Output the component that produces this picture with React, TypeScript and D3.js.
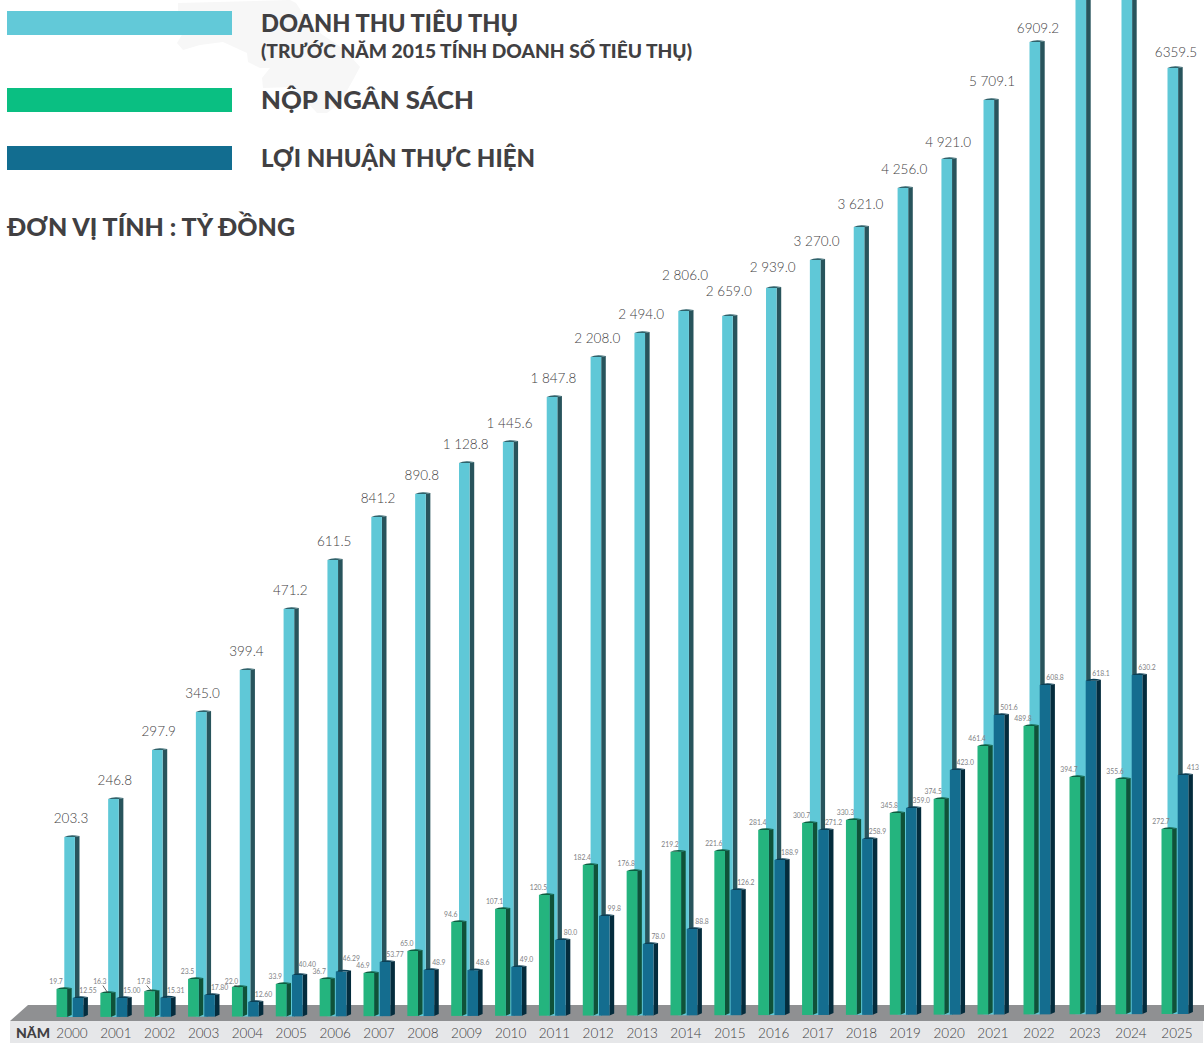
import * as d3 from 'd3';

const years = d3.range(2000, 2026);

// Doanh thu: 2023 and 2024 run off the top of the picture, so those two are estimates
const revenue = [203.3, 246.8, 297.9, 345.0, 399.4, 471.2, 611.5, 841.2, 890.8, 1128.8, 1445.6, 1847.8, 2208.0, 2494.0, 2806.0, 2659.0, 2939.0, 3270.0, 3621.0, 4256.0, 4921.0, 5709.1, 6909.2, 7800.0, 8000.0, 6359.5];
const budget = [19.7, 16.3, 17.8, 23.5, 22.0, 33.9, 36.7, 46.9, 65.0, 94.6, 107.1, 120.5, 182.4, 176.8, 219.2, 221.6, 281.4, 300.7, 330.3, 345.8, 374.5, 461.4, 489.8, 394.7, 355.6, 272.7];
const profit = [12.55, 15.0, 15.31, 17.8, 12.6, 40.4, 46.29, 53.77, 48.9, 48.6, 49.0, 80.0, 99.8, 78.0, 88.8, 126.2, 188.9, 271.2, 258.9, 359.0, 423.0, 501.6, 608.8, 618.1, 630.2, 413];

// The graphic is hand drawn and not to scale, so each series has its own calibration
const revenueKnots = [0, 203.3, 246.8, 297.9, 345, 399.4, 471.2, 611.5, 841.2, 890.8, 1128.8, 1445.6, 1847.8, 2208, 2494, 2659, 2806, 2939, 3270, 3621, 4256, 4921, 5709.1, 6359.5, 6909.2, 8000];
const revenueLevels = [0, 178, 216, 265, 303, 345, 406, 455, 498, 521, 552, 573, 618, 658, 682, 699, 704, 727, 755, 788, 827, 856, 915, 947, 973, 1100];
const budgetKnots = [0, 16.3, 19.7, 22, 23.5, 33.9, 36.7, 46.9, 65, 94.6, 120.5, 176.8, 182.4, 221.6, 272.7, 281.4, 300.7, 330.3, 345.8, 355.6, 374.5, 394.7, 461.4, 489.8];
const budgetLevels = [0, 24, 28, 30, 38, 33, 38, 44, 66, 95, 122, 146, 152, 166, 188, 187, 194, 197, 204, 238, 218, 240, 271, 291];
const profitKnots = [0, 12.55, 12.6, 15, 17.8, 40.4, 48.9, 49, 53.77, 78, 80, 88.8, 99.8, 126.2, 188.9, 258.9, 271.2, 359, 413, 423, 501.6, 608.8, 630.2];
const profitLevels = [0, 19, 15, 19, 22, 42, 47, 50, 55, 73, 77, 88, 101, 127, 157, 178, 187, 209, 242, 247, 302, 332, 342];

const x = d3.scaleLinear().domain([2000, 2021, 2025]).range([72, 993, 1177]);
const base = d3.scaleLinear().domain([2000, 2025]).range([1017, 1014]);
const revenueY = d3.scaleLinear().domain(revenueKnots).range(revenueLevels.map(l => 1015 - l));
const budgetY = d3.scaleLinear().domain(budgetKnots).range(budgetLevels.map(l => 1017 - l));
const profitY = d3.scaleLinear().domain(profitKnots).range(profitLevels.map(l => 1017 - l));

const FONT = 'Lato, "Noto Sans", sans-serif';
const barW = 10.6;
const sideW = 4.6;

const colors = {
  revenue: { front: '#5fc8d7', side: '#28545c', cap: '#2f626b' },
  budget: { front: '#24b47e', side: '#0f5239', cap: '#0c5f42' },
  profit: { front: '#146d8f', side: '#042c3d', cap: '#0b3f55' },
};

// labels that sit off the usual spot above their bar
const revenueLabelNudge: Record<number, number> = { 2014: -17, 2015: -6, 2016: -2, 2018: -4, 2020: 2, 2022: 5, 2025: 3 };
const profitLabelNudge: Record<number, number> = { 2005: -3, 2006: -6 };
const leaderYears = [2001, 2002, 2004];

function revenueLabel(v: number) {
  const s = v.toFixed(1);
  if (v < 1000 || v > 6000) return s;
  return `${s[0]} ${s.slice(1)}`;
}

function profitLabel(v: number, i: number) {
  if (i < 8) return v.toFixed(2);
  return v === 413 ? '413' : v.toFixed(1);
}

function Bar({ left, top, bottom, color }: { left: number; top: number; bottom: number; color: typeof colors.revenue }) {
  const right = left + barW;
  const sideR = right + sideW;
  return (
    <g>
      <path d={`M${right},${top}L${sideR},${top - 1}L${sideR},${bottom - 2}L${right},${bottom}Z`} fill={color.side} />
      <rect x={left} y={top} width={barW} height={bottom - top} fill={color.front} />
      <path d={`M${left},${top}Q${left + 5},${top - 3} ${sideR},${top - 1}L${right},${top}Z`} fill={color.cap} />
    </g>
  );
}

function LegendText({ y, size, width, children }: { y: number; size: number; width: number; children: string }) {
  return (
    <text x={261} y={y} fontSize={size} fontWeight={900} fill="#414042" textLength={width} lengthAdjust="spacingAndGlyphs">
      {children}
    </text>
  );
}

export default function App() {
  return (
    <svg width={1204} height={1043} style={{ position: 'absolute', left: 0, top: 0 }} fontFamily={FONT}>
      <rect width={1204} height={1043} fill="#ffffff" />

      {/* faint map behind the legend */}
      <path
        d="M178,3L290,0L296,3L307,20L320,33L345,50L360,67L353,80L340,103L327,113L317,113L293,87L263,88L262,78L270,68L260,68L248,62L247,53L223,42L200,45L183,50L177,43L183,33L178,28Z"
        fill="#f7f7f7"
      />

      {/* legend */}
      <rect x={7} y={11} width={225} height={24} fill="#62c9d8" />
      <rect x={7} y={88} width={225} height={24} fill="#0abf82" />
      <rect x={7} y={146} width={225} height={24} fill="#126d90" />
      <LegendText y={32} size={24} width={257}>DOANH THU TIÊU THỤ</LegendText>
      <LegendText y={58} size={18.5} width={431}>(TRƯỚC NĂM 2015 TÍNH DOANH SỐ TIÊU THỤ)</LegendText>
      <LegendText y={109} size={24} width={213}>NỘP NGÂN SÁCH</LegendText>
      <LegendText y={167} size={24} width={274}>LỢI NHUẬN THỰC HIỆN</LegendText>
      <text x={7} y={236} fontSize={25} fontWeight={900} fill="#414042" textLength={288} lengthAdjust="spacingAndGlyphs">
        ĐƠN VỊ TÍNH : TỶ ĐỒNG
      </text>

      {/* floor and year strip */}
      <path d="M28,1005L1204,1005L1204,1021L10,1021Z" fill="#8f9092" />
      <rect x={10} y={1021} width={1193} height={22} fill="#e6e7e9" />
      <text x={16} y={1038} fontSize={14} fontWeight={900} fill="#414042">NĂM</text>
      {years.map(year => (
        <text key={year} x={x(year)} y={1038} fontSize={13.5} fontWeight={300} textAnchor="middle" fill="#414042">{year}</text>
      ))}

      {years.map((year, i) => {
        const c = x(year);
        const bottom = base(year);
        const revenueTop = revenueY(revenue[i]);
        const budgetTop = budgetY(budget[i]);
        const profitTop = profitY(profit[i]);
        return (
          <g key={year}>
            <Bar left={c + (year > 2020 ? -9.5 : -7.7)} top={revenueTop} bottom={bottom} color={colors.revenue} />
            <Bar left={c - 15.5} top={budgetTop} bottom={bottom} color={colors.budget} />
            <Bar left={c + 0.7} top={profitTop} bottom={bottom} color={colors.profit} />

            {/* the tallest two bars leave the picture, and their labels with them */}
            {revenueTop > 20 && (
              <text x={c - 1} y={revenueTop - 14.5 + (revenueLabelNudge[year] ?? 0)} fontSize={13.5} fontWeight={300} textAnchor="middle" fill="#414042">
                {revenueLabel(revenue[i])}
              </text>
            )}
            <text x={c - 16} y={leaderYears.includes(year) ? 984 : budgetTop - 5} fontSize={6.8} textAnchor="middle" fill="#808285">
              {budget[i].toFixed(1)}
            </text>
            {leaderYears.includes(year) && (
              <line x1={c - 13} y1={985.5} x2={c - 8} y2={budgetTop} stroke="#414042" strokeWidth={0.8} />
            )}
            <text x={c + 16} y={profitTop - 5 + (profitLabelNudge[year] ?? 0)} fontSize={6.8} textAnchor="middle" fill="#808285">
              {profitLabel(profit[i], i)}
            </text>
          </g>
        );
      })}
    </svg>
  );
}
